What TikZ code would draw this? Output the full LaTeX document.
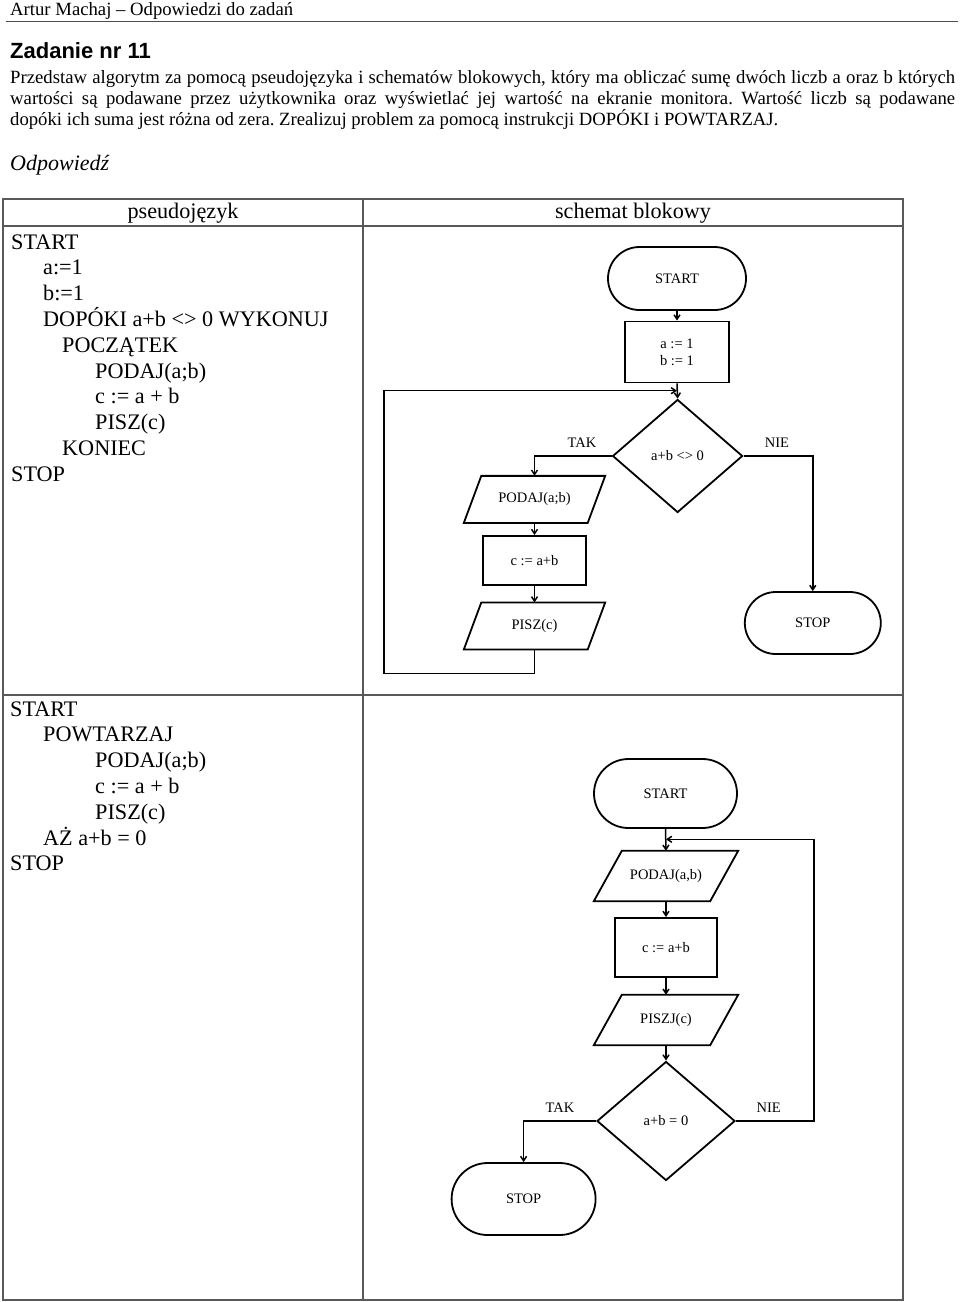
\documentclass[tikz,border=0pt]{standalone}
\usepackage{fontspec}
\setmainfont{Liberation Serif}
\newfontfamily\sansbf{Liberation Sans}
\usetikzlibrary{shapes.geometric,shapes.misc,arrows.meta,calc}
\newcommand{\ioshape}[2]{\draw[shp] ($(#1.north west)+(#2,0)$) -- (#1.north east) -- ($(#1.south east)-(#2,0)$) -- (#1.south west) -- cycle;}
\frenchspacing
\begin{document}
\begin{tikzpicture}[x=1pt,y=-1pt,
  shp/.style={draw=black, line width=1.8pt},
  fc/.style={font=\fontsize{14.5}{16.7}\selectfont, inner sep=0pt},
  term/.style={fc, shp, rounded rectangle},
  proc/.style={fc, shp, rectangle, align=center},
  dec/.style={fc, shp, diamond},
  io/.style={fc, rectangle},
  arr/.style={line width=1.5pt, -{Straight Barb[length=4.5pt,width=6pt]}},
  tab/.style={draw=black!65, line width=1.1pt},
  body/.style={anchor=base west, inner sep=0pt, font=\fontsize{18.7}{21.5}\selectfont},
  pc/.style={anchor=base west, inner sep=0pt, font=\fontsize{22.2}{25.8}\selectfont},
  hd/.style={anchor=base, inner sep=0pt, font=\fontsize{22.2}{25.8}\selectfont}]
\useasboundingbox (0,0) rectangle (960,1302);

% page header
\node[body] (hdr) at (10,15) {Artur Machaj -- Odpowiedzi do zadań};
\draw[line width=1.5pt, black!70] (6,21.7) -- (958,21.7);
\node[anchor=base west, inner sep=0pt, font=\sansbf\bfseries\fontsize{22}{25}\selectfont] (title) at (10,58.3) {Zadanie nr 11};
\node[body] (t1) at (10,83) {\makebox[945pt][s]{Przedstaw algorytm za pomocą pseudojęzyka i schematów blokowych, który ma obliczać sumę dwóch liczb a oraz b których}};
\node[body] (t2) at (10,104) {\makebox[945pt][s]{wartości są podawane przez użytkownika oraz wyświetlać jej wartość na ekranie monitora. Wartość liczb są podawane}};
\node[body] (t3) at (10,125) {dopóki ich suma jest różna od zera. Zrealizuj problem za pomocą instrukcji DOPÓKI i POWTARZAJ.};
\node[anchor=base west, inner sep=0pt, font=\itshape\fontsize{22}{25}\selectfont] (odp) at (10,170) {Odpowiedź};

% table
\draw[tab] (3,199) rectangle (903,1300);
\draw[tab] (363,199) -- (363,1300);
\draw[tab] (3,226) -- (903,226);
\draw[tab] (3,695) -- (903,695);
\node[hd] (h1) at (183,218) {pseudojęzyk};
\node[hd] (h2) at (633,218) {schemat blokowy};

% pseudocode 1
\node[pc] (a1) at (11,249) {START};
\node[pc] (a2) at (43,274.8) {a:=1};
\node[pc] (a3) at (43,300.6) {b:=1};
\node[pc] (a4) at (43,326.4) {DOPÓKI a+b <> 0 WYKONUJ};
\node[pc] (a5) at (62,352.2) {POCZĄTEK};
\node[pc] (a6) at (95,378) {PODAJ(a;b)};
\node[pc] (a7) at (95,403.8) {c := a + b};
\node[pc] (a8) at (95,429.6) {PISZ(c)};
\node[pc] (a9) at (62,455.4) {KONIEC};
\node[pc] (a10) at (11,481.2) {STOP};

% pseudocode 2
\node[pc] (b1) at (10,716) {START};
\node[pc] (b2) at (43,741.8) {POWTARZAJ};
\node[pc] (b3) at (95,767.6) {PODAJ(a;b)};
\node[pc] (b4) at (95,793.4) {c := a + b};
\node[pc] (b5) at (95,819.2) {PISZ(c)};
\node[pc] (b6) at (43,845) {AŻ a+b = 0};
\node[pc] (b7) at (10,870.8) {STOP};

% flowchart 1
\node[term, minimum width=138pt, minimum height=63pt] (s1) at (677,278.5) {START};
\node[proc, minimum width=104pt, minimum height=61pt] (r1) at (677,352) {a := 1\\ b := 1};
\node[dec, minimum width=130pt, minimum height=113pt] (d1) at (677.6,456) {a+b <> 0};
\node[io, minimum width=141pt, minimum height=46.7pt] (p1) at (534.5,499.4) {PODAJ(a;b)};
\ioshape{p1}{17.5}
\node[proc, minimum width=103pt, minimum height=49pt] (r2) at (534.5,560.5) {c := a+b};
\node[io, minimum width=141pt, minimum height=46.7pt] (w1) at (534.5,626) {PISZ(c)};
\ioshape{w1}{17.5}
\node[term, minimum width=136pt, minimum height=62pt] (e1) at (812.8,623) {STOP};
\node[fc] (tak1) at (582,443) {TAK};
\node[fc] (nie1) at (777,443) {NIE};
\coordinate (j1) at (677,390.7);
\coordinate (l1a) at (384,673.3);
\coordinate (l1b) at (384,390.7);
\draw[arr] (s1.south) -- (r1.north);
\draw[arr] (r1.south) -- (d1.north);
\draw[arr] (d1.west) -| (p1.north);
\draw[arr] (p1.south) -- (r2.north);
\draw[arr] (r2.south) -- (w1.north);
\draw[arr] (w1.south) |- (l1a) -- (l1b) -- (j1);
\draw[arr] (d1.east) -| (e1.north);

% flowchart 2
\node[term, minimum width=143pt, minimum height=69pt] (s2) at (665.5,793.5) {START};
\node[io, minimum width=144pt, minimum height=50pt] (p2) at (666,876) {PODAJ(a,b)};
\ioshape{p2}{28}
\node[proc, minimum width=102pt, minimum height=58.7pt] (r3) at (666,947.3) {c := a+b};
\node[io, minimum width=144pt, minimum height=50pt] (w2) at (666,1020) {PISZJ(c)};
\ioshape{w2}{28}
\node[dec, minimum width=138pt, minimum height=119pt] (d2) at (666,1121) {a+b = 0};
\node[term, minimum width=144pt, minimum height=72pt] (e2) at (523.6,1199) {STOP};
\node[fc] (tak2) at (560,1107.7) {TAK};
\node[fc] (nie2) at (768.7,1107.7) {NIE};
\coordinate (j2) at (666,839.3);
\coordinate (l2) at (814,839.3);
\draw[arr] (s2.south) -- (p2.north);
\draw[arr] (p2.south) -- (r3.north);
\draw[arr] (r3.south) -- (w2.north);
\draw[arr] (w2.south) -- (d2.north);
\draw[arr] (d2.west) -| (e2.north);
\draw[arr] (d2.east) -| (l2) -- (j2);
\end{tikzpicture}
\end{document}
